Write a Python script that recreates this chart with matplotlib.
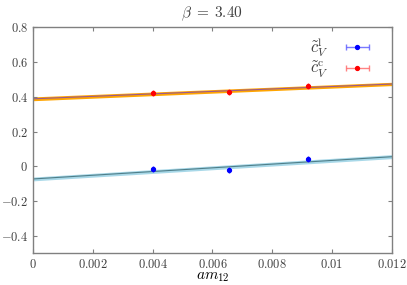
import numpy as np
import matplotlib
matplotlib.use("Agg")
import matplotlib.pyplot as plt
from matplotlib.ticker import FuncFormatter
from matplotlib.legend_handler import HandlerErrorbar
from matplotlib.container import ErrorbarContainer

plt.rcParams.update({
    "mathtext.fontset": "cm",
    "font.family": ["cmr10", "DejaVu Serif"],
    "axes.formatter.use_mathtext": True,
    "axes.unicode_minus": True,
    "text.color": "#404040",
    "axes.edgecolor": "#808080",
    "xtick.color": "#808080",
    "ytick.color": "#808080",
    "xtick.labelcolor": "#404040",
    "ytick.labelcolor": "#404040",
    "xtick.direction": "in",
    "ytick.direction": "in",
    "xtick.top": True,
    "ytick.right": True,
})

# data
am12 = [0.0040, 0.00655, 0.0092]
am12_errs = [0.0, 0.0, 0.0]
cl_vals = [-0.017, -0.022, 0.040]
cc_vals = [0.425, 0.426, 0.465]

fit_x = [0.0, 0.012]
cl_fit = [-0.072, 0.056]
cl_band_lo = [-0.083, 0.045]
cl_band_hi = [-0.061, 0.068]
cc_fit = [0.389, 0.474]
cc_band_lo = [0.378, 0.465]
cc_band_hi = [0.400, 0.484]

xticks = [0, 0.002, 0.004, 0.006, 0.008, 0.01, 0.012]
yticks = [-0.4, -0.2, 0, 0.2, 0.4, 0.6, 0.8]

fig = plt.figure(figsize=(4.07, 2.85), dpi=100)
ax = fig.add_axes([0.081, 0.111, 0.882, 0.793])

ax.fill_between(fit_x, cl_band_lo, cl_band_hi, color="#a8d8e8", lw=0)
ax.plot(fit_x, cl_fit, color="#4f7f8a", lw=0.8)
ax.fill_between(fit_x, cc_band_lo, cc_band_hi, color="#ffa500", lw=0)
ax.plot(fit_x, cc_fit, color="#9b5a8c", lw=0.8)

ax.errorbar(am12, cl_vals, xerr=am12_errs, fmt="o", ms=2.8, color="blue",
            ecolor=(0.35, 0.35, 1.0, 0.8), capsize=2, elinewidth=1,
            label=r"$\tilde{c}_V^{\rm l}$")
ax.errorbar(am12, cc_vals, xerr=am12_errs, fmt="o", ms=2.8, color="red",
            ecolor=(1.0, 0.4, 0.4, 0.8), capsize=2, elinewidth=1,
            label=r"$\tilde{c}_V^{\rm c}$")

ax.set_xlim(0, 0.012)
ax.set_ylim(-0.5, 0.8)
ax.set_xticks(xticks)
ax.set_yticks(yticks)
fmt = FuncFormatter(lambda v, p: "$%g$" % v)
ax.xaxis.set_major_formatter(fmt)
ax.yaxis.set_major_formatter(fmt)
ax.tick_params(labelsize=9, length=3, width=0.8)
for s in ax.spines.values():
    s.set_linewidth(1.0)

ax.set_title(r"$\beta\;=\;3.40$", fontsize=11, color="#404040", pad=7)
ax.set_xlabel(r"$am_{12}$", fontsize=11, labelpad=-1)

leg = ax.legend(loc="upper right", bbox_to_anchor=(0.964, 1.0), frameon=False,
                markerfirst=False, fontsize=12, handlelength=1.6,
                labelspacing=0.0, handletextpad=0.9, borderaxespad=0.1,
                handler_map={ErrorbarContainer: HandlerErrorbar(xerr_size=0.68)})

fig.savefig("out.png", dpi=100)
